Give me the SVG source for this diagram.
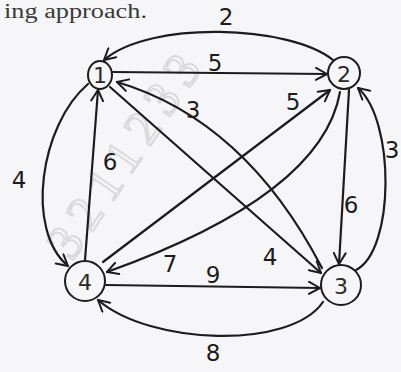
<svg xmlns="http://www.w3.org/2000/svg" width="401" height="372" viewBox="0 0 401 372">
  <defs>
    <style>
      .edge { fill: none; stroke: #1c1c1c; stroke-width: 2.2; stroke-linecap: round; marker-end: url(#arr); }
      .node { fill: none; stroke: #1c1c1c; stroke-width: 2; }
      .nl { font-family: "DejaVu Sans", sans-serif; font-size: 22px; fill: #2a2a2a; text-anchor: middle; dominant-baseline: central; }
      .wl { font-family: "DejaVu Sans", sans-serif; font-size: 23px; fill: #1c1c1c; text-anchor: middle; dominant-baseline: central; }
      .wm { font-family: "Liberation Serif", serif; font-size: 50px; fill: none; stroke: #c4c4c9; stroke-width: 2; opacity: 0.55; }
    </style>
    <marker id="arr" viewBox="-12 -7 14 14" markerWidth="14" markerHeight="14" refX="0" refY="0" orient="auto" markerUnits="userSpaceOnUse">
      <path d="M -11 -6 L 0 0 L -11 6" fill="none" stroke="#1c1c1c" stroke-width="2" stroke-linecap="round" stroke-linejoin="round"/>
    </marker>
  </defs>
  <rect x="0" y="0" width="401" height="372" fill="#f6f6f8"/>

  <text x="4" y="18" font-family="Liberation Serif, serif" font-size="20" fill="#3a3a3a" textLength="143" lengthAdjust="spacingAndGlyphs">ing approach.</text>

  <text class="wm" transform="translate(72 262) rotate(-56)" letter-spacing="10">3211233</text>

  <g id="connectors">
    <path id="e21" class="edge" d="M 333 60 C 290 25, 150 20, 104 60"/>
    <path id="e12" class="edge" d="M 113 72 L 327 74"/>
    <path id="e42" class="edge" d="M 103 262 L 330 90"/>
    <path id="e24" class="edge" d="M 340 92 Q 322 195 107 272"/>
    <path id="e31" class="edge" d="M 322 268 Q 245 120 117 82"/>
    <path id="e13" class="edge" d="M 110 87 L 321 273"/>
    <path id="e23" class="edge" d="M 349 90 L 339 264"/>
    <path id="e32" class="edge" d="M 356 270 C 395 250, 395 120, 358 88"/>
    <path id="e41" class="edge" d="M 85 260 L 98 90"/>
    <path id="e14" class="edge" d="M 88 84 C 40 125, 25 230, 68 266"/>
    <path id="e43" class="edge" d="M 106 285 L 320 288"/>
    <path id="e34" class="edge" d="M 323 302 C 290 350, 150 345, 98 300"/>
    <text class="wl" x="226" y="17">2</text>
    <text class="wl" x="215" y="63">5</text>
    <text class="wl" x="193" y="110">3</text>
    <text class="wl" x="293" y="102">5</text>
    <text class="wl" x="110" y="162">6</text>
    <text class="wl" x="19" y="180">4</text>
    <text class="wl" x="351" y="205">6</text>
    <text class="wl" x="392" y="150">3</text>
    <text class="wl" x="170" y="264">7</text>
    <text class="wl" x="270" y="257">4</text>
    <text class="wl" x="213" y="275">9</text>
    <text class="wl" x="213" y="353">8</text>
  </g>

  <g id="node1">
    <ellipse class="node" cx="100" cy="75" rx="12" ry="14"/>
    <text class="nl" x="100" y="75">1</text>
  </g>
  <g id="node2">
    <circle class="node" cx="344" cy="73" r="16"/>
    <text class="nl" x="344" y="74">2</text>
  </g>
  <g id="node3">
    <circle class="node" cx="341" cy="285" r="20"/>
    <text class="nl" x="341" y="286">3</text>
  </g>
  <g id="node4">
    <circle class="node" cx="85" cy="281" r="20"/>
    <text class="nl" x="85" y="282" fill="#777">4</text>
  </g>
</svg>
